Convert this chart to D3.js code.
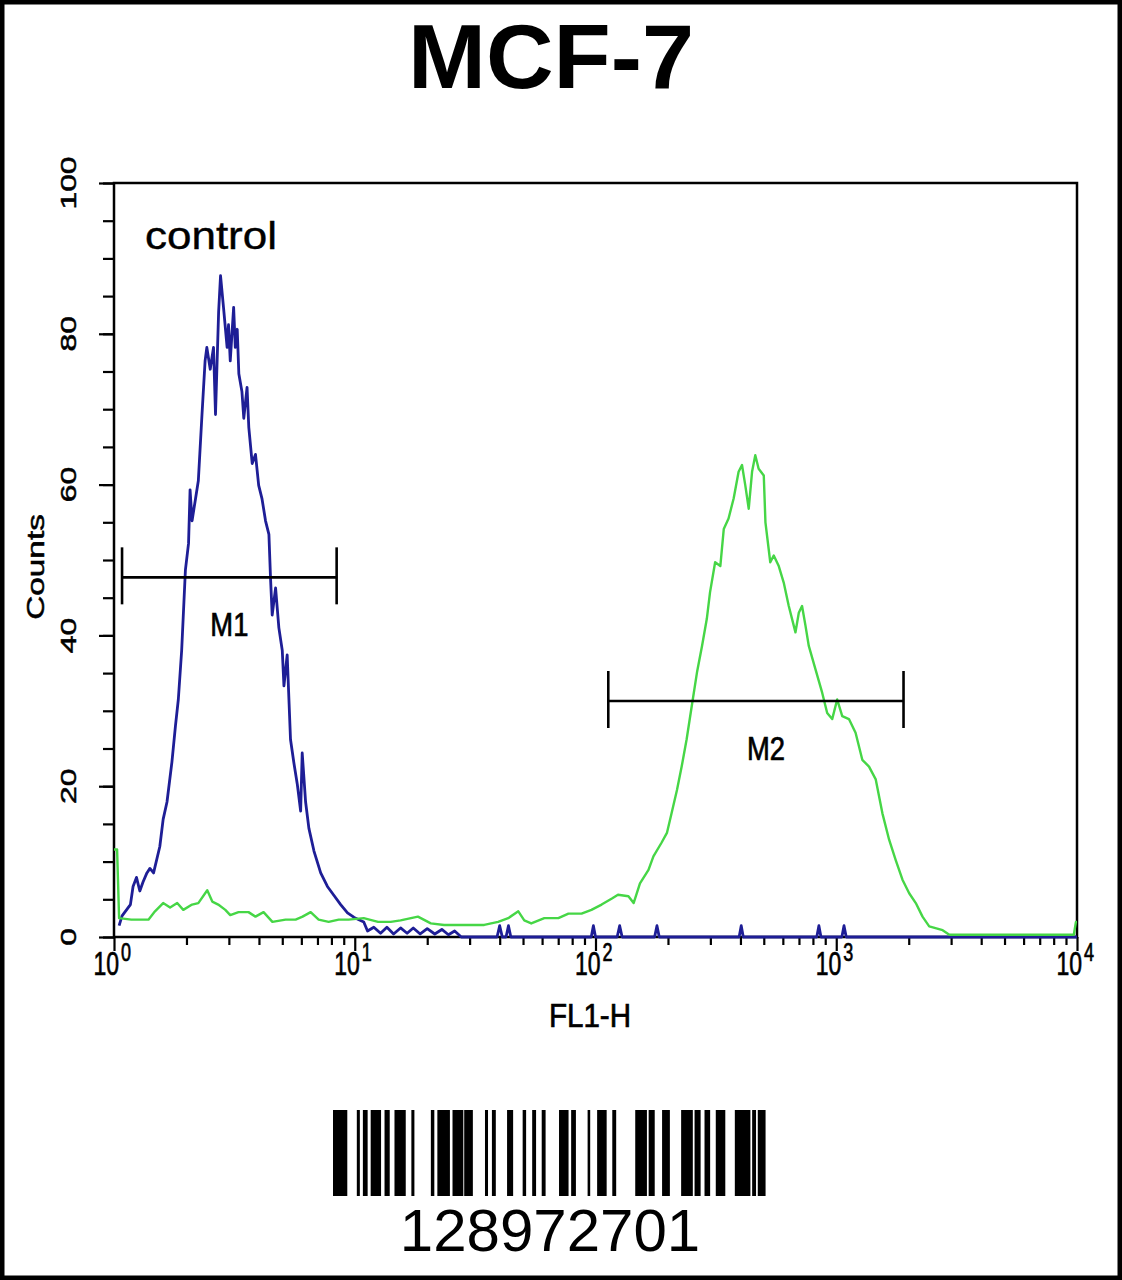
<!DOCTYPE html>
<html>
<head>
<meta charset="utf-8">
<script src="https://cdn.jsdelivr.net/npm/d3@7"></script>
<style>
  html, body { margin: 0; padding: 0; background: #fff; }
  svg { display: block; }
  text { font-family: "Liberation Sans", Arial, Helvetica, sans-serif; }
  .axt { stroke: #000; stroke-width: 0.5px; }
</style>
</head>
<body>
<script>
// ---------------- DATA ----------------
const chartTitle = "MCF-7";
const xAxisLabel = "FL1-H";
const yAxisLabel = "Counts";
const controlLabel = "control";
const catalogNumber = "128972701";

const xDomain = [1, 10000];
const yDomain = [0, 100];
const xMajorTicks = [1, 10, 100, 1000, 10000];
const xTickExponents = ["0", "1", "2", "3", "4"];
const yMajorTicks = [0, 20, 40, 60, 80, 100];

// control histogram (blue): [FL1-H, counts]
const controlSeries = [
  [1.05, 1.5], [1.08, 2.8], [1.17, 4.3], [1.20, 6.7], [1.24, 7.9], [1.28, 6.1], [1.32, 7.3],
  [1.37, 8.5], [1.41, 9.1], [1.46, 8.5], [1.55, 12.0], [1.60, 15.6], [1.66, 17.9], [1.74, 23.2],
  [1.80, 28.0], [1.85, 31.5], [1.91, 38.0], [1.98, 48.7], [2.04, 52.2], [2.07, 59.3], [2.11, 55.2],
  [2.18, 58.1], [2.24, 60.5], [2.32, 69.3], [2.39, 76.4], [2.43, 78.2], [2.51, 75.3], [2.59, 78.2],
  [2.64, 69.3], [2.72, 82.9], [2.77, 87.7], [2.85, 83.5], [2.95, 78.2], [2.99, 81.2], [3.04, 76.4],
  [3.14, 83.5], [3.19, 78.2], [3.25, 80.6], [3.30, 74.7], [3.40, 72.3], [3.46, 68.8], [3.57, 72.9],
  [3.63, 67.6], [3.75, 62.8], [3.87, 64.0], [3.99, 59.9], [4.12, 58.1], [4.26, 55.2], [4.40, 53.4],
  [4.47, 47.5], [4.54, 42.7], [4.69, 46.3], [4.84, 41.0], [5.00, 38.0], [5.08, 33.3], [5.24, 37.4],
  [5.41, 26.2], [5.58, 23.2], [5.77, 20.3], [5.96, 16.7], [6.05, 24.4], [6.25, 17.9], [6.45, 14.4],
  [6.77, 11.4], [7.22, 8.5], [7.70, 6.7], [8.20, 5.5], [8.74, 4.3], [9.33, 3.2], [9.94, 2.6],
  [10.9, 2.0], [11.3, 0.8], [12.0, 1.3], [12.8, 0.5], [13.6, 1.3], [14.5, 0.4], [15.5, 1.2],
  [16.5, 0.5], [17.5, 1.2], [18.7, 0.4], [20.0, 1.1], [21.5, 0.4], [23.0, 1.0], [24.5, 0.3],
  [26.0, 0.8], [27.7, 0.0], [39.0, 0.0], [40.0, 1.5], [41.0, 0.0], [42.5, 0.0], [43.5, 1.5],
  [44.5, 0.0], [96, 0.0], [98, 1.5], [100, 0.0], [123, 0.0], [126, 1.5], [129, 0.0], [176, 0.0],
  [180, 1.5], [184, 0.0], [395, 0.0], [403, 1.5], [411, 0.0], [830, 0.0], [847, 1.5], [864, 0.0],
  [1055, 0.0], [1077, 1.5], [1100, 0.0], [10000, 0.0]
];

// stained sample histogram (green): [FL1-H, counts]
const sampleSeries = [
  [1.00, 11.6], [1.03, 11.6], [1.05, 2.5], [1.18, 2.3], [1.39, 2.3], [1.48, 3.4], [1.60, 4.5],
  [1.71, 3.9], [1.83, 4.5], [1.94, 3.6], [2.11, 4.3], [2.24, 4.5], [2.44, 6.2], [2.56, 4.7],
  [2.71, 4.3], [2.90, 3.6], [3.04, 2.9], [3.29, 3.3], [3.62, 3.3], [3.87, 2.7], [4.18, 3.3],
  [4.55, 2.0], [5.16, 2.3], [5.68, 2.3], [6.07, 2.7], [6.56, 3.3], [7.08, 2.3], [7.79, 2.0],
  [8.58, 2.3], [9.44, 2.3], [10.9, 2.5], [12.5, 2.0], [14.1, 2.0], [15.5, 2.2], [18.3, 2.7],
  [20.7, 1.8], [23.5, 1.6], [27.7, 1.6], [34.5, 1.6], [39.4, 2.0], [43.4, 2.5], [47.8, 3.4],
  [50.6, 2.2], [54.1, 1.8], [61.3, 2.5], [70.1, 2.5], [77.2, 3.1], [87.5, 3.1], [96.2, 3.6],
  [106, 4.3], [117, 5.1], [124, 5.6], [137, 5.4], [144, 4.5], [153, 7.1], [166, 8.9], [174, 10.7],
  [188, 12.5], [198, 13.8], [207, 16.4], [218, 19.5], [228, 22.6], [239, 26.2], [251, 30.6],
  [264, 35.1], [277, 38.6], [290, 42.2], [299, 45.7], [314, 49.7], [330, 49.2], [341, 54.1],
  [357, 55.5], [375, 58.2], [393, 61.7], [406, 62.6], [419, 59.9], [433, 56.8], [447, 61.7],
  [461, 63.9], [476, 62.1], [500, 61.2], [508, 55.0], [532, 49.7], [550, 50.6], [577, 49.2],
  [605, 47.0], [635, 43.9], [677, 40.4], [699, 43.0], [721, 43.9], [745, 41.3], [769, 38.6],
  [820, 35.5], [874, 32.4], [917, 29.7], [962, 28.9], [1009, 31.5], [1059, 29.3], [1129, 28.9],
  [1203, 27.1], [1283, 23.5], [1368, 22.6], [1459, 20.9], [1555, 16.4], [1658, 12.9], [1766, 10.2],
  [1884, 7.6], [2009, 5.8], [2140, 4.5], [2282, 2.7], [2433, 1.4], [2766, 0.9], [2949, 0.3],
  [5000, 0.3], [9700, 0.3], [9900, 2.0], [10000, 2.0]
];

// marker gates
const gateLabels = ["M1", "M2"];
const gateStart = [1.08, 113];
const gateEnd = [8.41, 1903];
const gateLevel = [47.7, 31.3];

// barcode bars as [start, end] in percent of barcode width
const barcodeBars = [
  [0.0, 3.3], [5.5, 6.2], [6.9, 8.0], [8.7, 11.1], [11.9, 13.1], [14.2, 16.8], [18.1, 18.8],
  [22.6, 23.4], [24.1, 27.0], [27.6, 30.1], [30.3, 32.3], [35.1, 35.8], [36.7, 37.6], [40.2, 41.6],
  [43.8, 44.6], [46.0, 46.9], [48.2, 49.1], [52.2, 54.4], [55.0, 56.1], [58.8, 59.4], [61.0, 63.2],
  [64.5, 65.4], [69.8, 72.5], [72.9, 74.3], [76.0, 77.8], [80.4, 83.1], [83.5, 84.9], [85.8, 87.1],
  [88.4, 90.6], [92.8, 96.4], [96.8, 97.7], [98.1, 99.9]
];

// ---------------- LAYOUT ----------------
const W = 1122, H = 1280;
const plot = { left: 114, right: 1077, top: 183, bottom: 937 };
const blue = "#1e1e96";
const green = "#46d646";
const SY = 1.45; // vertical stretch of the axis lettering

const svg = d3.select("body").append("svg").attr("width", W).attr("height", H);
svg.append("rect").attr("x", 0).attr("y", 0).attr("width", W).attr("height", H).attr("fill", "#fff");
svg.append("rect").attr("x", 2).attr("y", 2).attr("width", W - 4).attr("height", H - 4)
  .attr("fill", "none").attr("stroke", "#000").attr("stroke-width", 5);

// title
svg.append("text").attr("x", 551).attr("y", 88).attr("text-anchor", "middle")
  .attr("font-size", 90).attr("font-weight", "bold").attr("textLength", 286)
  .attr("lengthAdjust", "spacingAndGlyphs").text(chartTitle);

const x = d3.scaleLog().domain(xDomain).range([plot.left, plot.right]);
const y = d3.scaleLinear().domain(yDomain).range([plot.bottom, plot.top]);

// frame
svg.append("rect").attr("x", plot.left).attr("y", plot.top)
  .attr("width", plot.right - plot.left).attr("height", plot.bottom - plot.top)
  .attr("fill", "none").attr("stroke", "#000").attr("stroke-width", 2.5);

// y axis ticks
const yMinor = svg.append("g").attr("transform", `translate(${plot.left},0)`)
  .call(d3.axisLeft(y).tickValues(d3.range(0, 101, 5)).tickSize(11).tickFormat(""));
const yMajor = svg.append("g").attr("transform", `translate(${plot.left},0)`)
  .call(d3.axisLeft(y).tickValues(yMajorTicks).tickSize(15).tickFormat(""));
[yMinor, yMajor].forEach(g => {
  g.select(".domain").remove();
  g.selectAll("line").attr("stroke", "#000").attr("stroke-width", 2.2);
});
svg.append("g").selectAll("text").data(yMajorTicks).join("text").attr("class", "axt")
  .attr("transform", d => `translate(76,${y(d)}) scale(1,${SY}) rotate(-90)`)
  .attr("text-anchor", "middle").attr("font-size", 22).text(d => d);
svg.append("text").attr("class", "axt").attr("transform", `translate(44,567) scale(1,${SY}) rotate(-90)`)
  .attr("text-anchor", "middle").attr("font-size", 23).text(yAxisLabel);

// x axis ticks
const xMinorVals = [];
xMajorTicks.slice(0, -1).forEach(d => { for (let k = 2; k <= 9; k++) xMinorVals.push(d * k); });
const xMinor = svg.append("g").attr("transform", `translate(0,${plot.bottom})`)
  .call(d3.axisBottom(x).tickValues(xMinorVals).tickSize(8).tickFormat(""));
const xMajor = svg.append("g").attr("transform", `translate(0,${plot.bottom})`)
  .call(d3.axisBottom(x).tickValues(xMajorTicks).tickSize(14).tickFormat(""));
[xMinor, xMajor].forEach(g => {
  g.select(".domain").remove();
  g.selectAll("line").attr("stroke", "#000").attr("stroke-width", 2.2);
});
const xl = svg.append("g");
xl.selectAll("text.base").data(xMajorTicks).join("text").attr("class", "base axt")
  .attr("transform", d => `translate(${x(d) + 5},975) scale(1,${SY})`)
  .attr("text-anchor", "end").attr("font-size", 23).text("10");
xl.selectAll("text.exp").data(xMajorTicks).join("text").attr("class", "exp axt")
  .attr("transform", d => `translate(${x(d) + 7},961) scale(1,${SY})`)
  .attr("text-anchor", "start").attr("font-size", 18).text((d, i) => xTickExponents[i]);
svg.append("text").attr("class", "axt").attr("transform", `translate(590,1027) scale(1,${SY})`)
  .attr("text-anchor", "middle").attr("font-size", 23)
  .attr("textLength", 82).attr("lengthAdjust", "spacingAndGlyphs").text(xAxisLabel);

// histograms
const line = d3.line().x(d => x(d[0])).y(d => y(d[1]));
svg.append("path").datum(controlSeries).attr("d", line)
  .attr("fill", "none").attr("stroke", blue).attr("stroke-width", 2.8).attr("stroke-linejoin", "round");
svg.append("path").datum(sampleSeries).attr("d", line)
  .attr("fill", "none").attr("stroke", green).attr("stroke-width", 2.4).attr("stroke-linejoin", "round");

// gates
const gates = svg.append("g").selectAll("g").data(gateLabels).join("g");
gates.append("line")
  .attr("x1", (d, i) => x(gateStart[i])).attr("x2", (d, i) => x(gateEnd[i]))
  .attr("y1", (d, i) => y(gateLevel[i])).attr("y2", (d, i) => y(gateLevel[i]))
  .attr("stroke", "#000").attr("stroke-width", 2.6);
gates.append("line")
  .attr("x1", (d, i) => x(gateStart[i])).attr("x2", (d, i) => x(gateStart[i]))
  .attr("y1", (d, i) => y(gateLevel[i]) - 30).attr("y2", (d, i) => y(gateLevel[i]) + 27)
  .attr("stroke", "#000").attr("stroke-width", 2.6);
gates.append("line")
  .attr("x1", (d, i) => x(gateEnd[i])).attr("x2", (d, i) => x(gateEnd[i]))
  .attr("y1", (d, i) => y(gateLevel[i]) - 30).attr("y2", (d, i) => y(gateLevel[i]) + 27)
  .attr("stroke", "#000").attr("stroke-width", 2.6);
gates.append("text").attr("class", "axt")
  .attr("transform", (d, i) => `translate(${x(Math.sqrt(gateStart[i] * gateEnd[i])) + (i === 1 ? 10 : 0)},${y(gateLevel[i]) + 59}) scale(1,${SY})`)
  .attr("text-anchor", "middle").attr("font-size", 23)
  .attr("textLength", 38).attr("lengthAdjust", "spacingAndGlyphs").text(d => d);

// control label
svg.append("text").attr("x", 145).attr("y", 249).attr("font-size", 38)
  .attr("stroke", "#000").attr("stroke-width", 0.4)
  .attr("textLength", 132).attr("lengthAdjust", "spacingAndGlyphs").text(controlLabel);

// barcode
const bx = d3.scaleLinear().domain([0, 100]).range([333, 766]);
svg.append("g").selectAll("rect").data(barcodeBars).join("rect")
  .attr("x", d => bx(d[0])).attr("width", d => bx(d[1]) - bx(d[0]))
  .attr("y", 1110).attr("height", 86).attr("fill", "#000");
svg.append("text").attr("x", 550).attr("y", 1251).attr("text-anchor", "middle")
  .attr("font-size", 60).text(catalogNumber);
</script>
</body>
</html>
